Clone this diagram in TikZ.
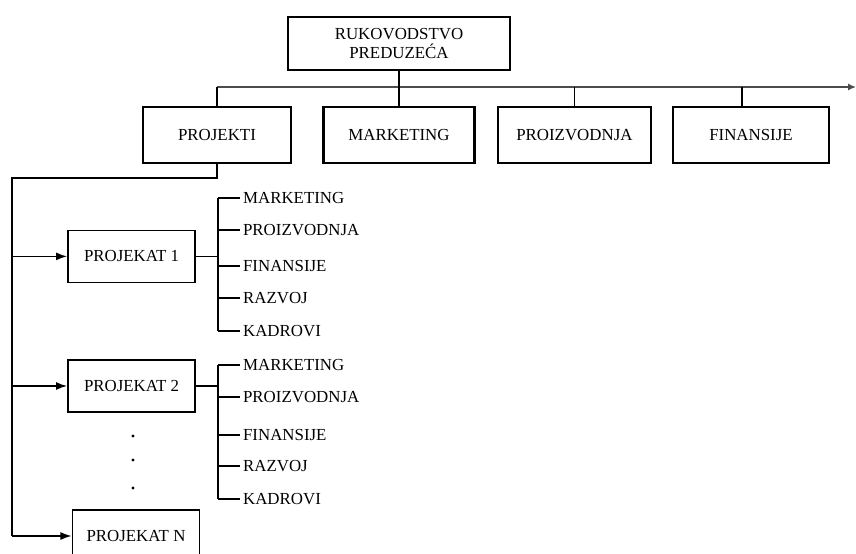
\documentclass[tikz,border=0pt]{standalone}
\usepackage{fontspec}
\setmainfont{Liberation Serif}
\usetikzlibrary{arrows.meta,positioning}
\tikzset{
  orgbox/.style={
    draw=black,
    line width=1.6pt,
    align=center,
    font=\fontsize{12}{14}\selectfont,
    inner sep=3pt
  },
  orgroot/.style={
    orgbox,
    minimum width=5.55cm,
    minimum height=1.325cm
  },
  orgunit/.style={
    orgbox,
    minimum height=1.4cm
  },
  orgproj/.style={
    orgbox,
    line width=1.2pt,
    minimum width=3.175cm,
    minimum height=1.3cm
  },
  orgitem/.style={
    anchor=west,
    inner sep=2pt,
    font=\fontsize{12}{14}\selectfont
  },
  orgline/.style={
    draw=black,
    line width=1.2pt
  },
  orgbus/.style={
    draw=black!70,
    line width=1.1pt,
    -{Latex[length=2mm,width=1.8mm]}
  },
  orgarrow/.style={
    orgline,
    -{Latex[length=2.8mm,width=2mm]}
  }
}

\begin{document}
\begin{tikzpicture}[x=1cm,y=1cm]
  \useasboundingbox (0,0) rectangle (21.4,-13.825);
  \node[orgroot] (root) at (9.975,-1.09) {RUKOVODSTVO\\PREDUZEĆA};
  \node[orgunit, minimum width=3.7cm] (projekti) at (5.425,-3.375) {PROJEKTI};
  \node[orgunit, minimum width=3.775cm] (marketing) at (9.975,-3.375) {MARKETING};
  \node[orgunit, minimum width=3.825cm] (proizvodnja) at (14.36,-3.375) {PROIZVODNJA};
  \node[orgunit, minimum width=3.9cm] (finansije) at (18.775,-3.375) {FINANSIJE};
  % bus under the management box
  \coordinate (busL) at (5.425,-2.175);
  \coordinate (busR) at (21.4,-2.175);
  \draw[orgbus] (busL) -- (busR);
  \draw[orgline] (root.south) -- (marketing.north);
  \draw[orgline] (busL) -- (projekti.north);
  \draw[orgline] (proizvodnja.north |- busL) -- (proizvodnja.north);
  \path ([xshift=-0.225cm]finansije.north) coordinate (finN);
  \draw[orgline] (finN |- busL) -- (finN);
  % projects
  \node[orgproj] (proj1) at (3.29,-6.41) {PROJEKAT 1};
  \node[orgproj] (proj2) at (3.29,-9.65) {PROJEKAT 2};
  \node[orgproj] (projN) at (3.4,-13.4) {PROJEKAT N};
  \coordinate (feedtop) at (0.3,-4.45);
  \draw[orgline] (projekti.south) |- (feedtop) -- (feedtop |- projN.west);
  \foreach \p in {proj1,proj2,projN}{\draw[orgarrow] (feedtop |- \p.west) -- (\p.west);}
  % functions of project 1
  \foreach \y/\name/\txt in {-4.95/mark/MARKETING,-5.75/proiz/PROIZVODNJA,-6.65/fin/FINANSIJE,-7.45/raz/RAZVOJ,-8.275/kad/KADROVI}
    \node[orgitem] (p1\name) at (6.0,\y) {\txt};
  \draw[orgline] (proj1.east) -- ++(0.55,0) coordinate (spine1);
  \draw[orgline] (spine1 |- p1mark.west) -- (spine1 |- p1kad.west);
  \foreach \name in {mark,proiz,fin,raz,kad}{\draw[orgline] (spine1 |- p1\name.west) -- (p1\name.west);}
  % functions of project 2
  \foreach \y/\name/\txt in {-9.125/mark/MARKETING,-9.925/proiz/PROIZVODNJA,-10.875/fin/FINANSIJE,-11.65/raz/RAZVOJ,-12.475/kad/KADROVI}
    \node[orgitem] (p2\name) at (6.0,\y) {\txt};
  \draw[orgline] (proj2.east) -- ++(0.55,0) coordinate (spine2);
  \draw[orgline] (spine2 |- p2mark.west) -- (spine2 |- p2kad.west);
  \foreach \name in {mark,proiz,fin,raz,kad}{\draw[orgline] (spine2 |- p2\name.west) -- (p2\name.west);}
  % dots between project 2 and project N
  \foreach \y in {-10.9,-11.5,-12.2}{\fill (3.325,\y) circle (1.2pt);}
\end{tikzpicture}
\end{document}
